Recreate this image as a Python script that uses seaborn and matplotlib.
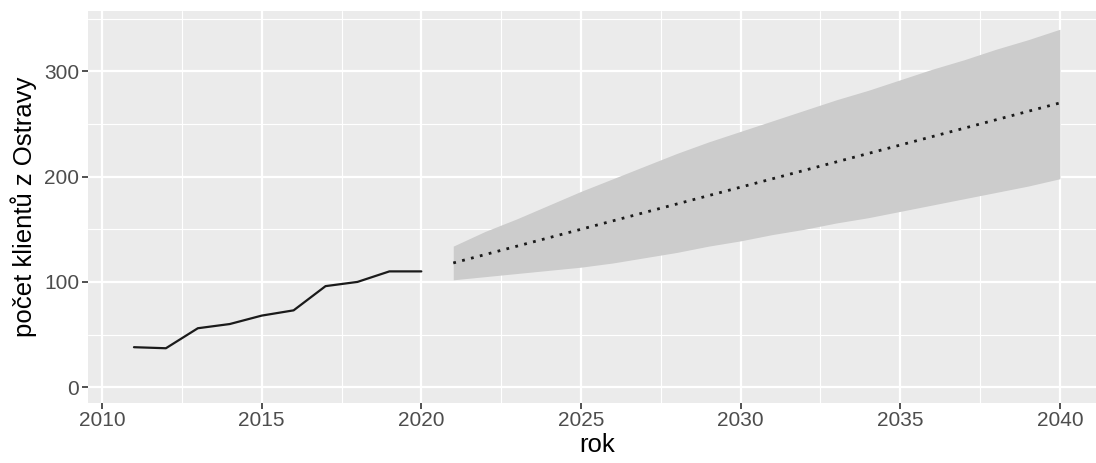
import numpy as np
import pandas as pd
import matplotlib
matplotlib.use("Agg")
import matplotlib.pyplot as plt
import seaborn as sns

# Historical counts
years_hist = [2011, 2012, 2013, 2014, 2015, 2016, 2017, 2018, 2019, 2020]
clients_hist = [38, 37, 56, 60, 68, 73, 96, 100, 110, 110]

# Forecast with interval
years_fc = [2021, 2022, 2023, 2024, 2025, 2026, 2027, 2028, 2029, 2030,
            2031, 2032, 2033, 2034, 2035, 2036, 2037, 2038, 2039, 2040]
clients_fc = [118, 126, 134, 142, 150, 158, 166, 174, 182, 190,
              198, 206, 214, 222, 230, 238, 246, 254, 262, 270]
upper_fc = [134, 148, 160, 173, 186, 198, 210, 222, 233, 243,
            253, 263, 273, 282, 292, 302, 311, 321, 330, 340]
lower_fc = [102, 105, 108, 111, 114, 118, 123, 128, 134, 139,
            145, 150, 156, 161, 167, 173, 179, 185, 191, 198]

x_ticks = [2010, 2015, 2020, 2025, 2030, 2035, 2040]
y_ticks = [0, 100, 200, 300]

hist = pd.DataFrame({"rok": years_hist, "klienti": clients_hist})
fc = pd.DataFrame({"rok": years_fc, "klienti": clients_fc,
                   "upper": upper_fc, "lower": lower_fc})

sns.set_theme(style="darkgrid", rc={
    "axes.facecolor": "#EBEBEB",
    "grid.color": "white",
    "axes.edgecolor": "#EBEBEB",
})
plt.rcParams["font.family"] = ["Liberation Sans", "DejaVu Sans"]

fig = plt.figure(figsize=(10.96, 4.63), dpi=100)
# panel runs a little past the right edge (cropped like the reference)
ax = fig.add_axes([0.080, 0.1296, 0.9293, 0.8466])

ax.fill_between(fc["rok"], fc["lower"], fc["upper"], color="#CCCCCC",
                linewidth=0, antialiased=False, zorder=2)
sns.lineplot(data=hist, x="rok", y="klienti", ax=ax, color="#1a1a1a",
             linewidth=1.6, zorder=3)
sns.lineplot(data=fc, x="rok", y="klienti", ax=ax, color="#1a1a1a",
             linewidth=2.0, linestyle=(0, (1, 2.3)), zorder=3)

ax.set_xlim(2009.55, 2041.45)
ax.set_ylim(-15, 357.3)
ax.set_xticks(x_ticks)
ax.set_yticks(y_ticks)
ax.set_xticks([2012.5, 2017.5, 2022.5, 2027.5, 2032.5, 2037.5], minor=True)
ax.set_yticks([50, 150, 250, 350], minor=True)
ax.grid(which="major", color="white", linewidth=1.6)
ax.grid(which="minor", color="white", linewidth=0.8)
ax.set_axisbelow(True)

ax.tick_params(which="major", length=4, width=1.2, color="#333333",
               labelcolor="#4D4D4D", labelsize=15, pad=2, bottom=True, left=True)
ax.tick_params(which="minor", length=0)
for s in ax.spines.values():
    s.set_visible(False)

ax.set_xlabel("rok", fontsize=18.5, color="black", labelpad=2)
ax.set_ylabel("počet klientů z Ostravy", fontsize=18.5, color="black", labelpad=5)

fig.savefig("out.png", dpi=100)
